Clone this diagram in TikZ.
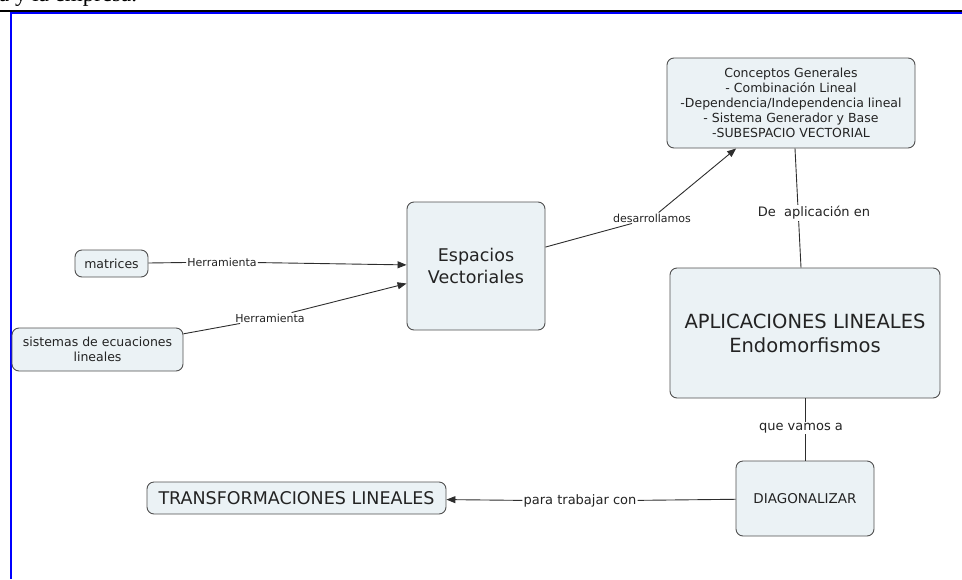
\documentclass[tikz,border=0pt]{standalone}
\usepackage{fontspec}
\setmainfont{DejaVu Sans}
\newfontfamily\headserif{Liberation Serif}
\usetikzlibrary{arrows.meta}

\definecolor{cfill}{RGB}{235,242,245}
\definecolor{cedge}{RGB}{80,80,80}
\definecolor{ctext}{RGB}{35,35,35}
\definecolor{clink}{RGB}{45,45,45}
\definecolor{frameblue}{RGB}{0,0,255}

\begin{document}
\begin{tikzpicture}[x=1pt,y=-1pt,
  concept/.style={draw=cedge, fill=cfill, rectangle, rounded corners=7pt,
    line width=0.9pt, text=ctext, align=center, inner sep=2pt},
  phrase/.style={fill=white, text=ctext, inner sep=1pt,
    font=\fontsize{11}{13}\selectfont},
  bigphrase/.style={phrase, font=\fontsize{13}{15}\selectfont},
  link/.style={draw=clink, line width=0.9pt},
  tip/.style={-{Triangle[length=9pt,width=7pt]}}]

\useasboundingbox (0,0) rectangle (962,579);

% running text of the page above the frame
\begin{scope}
  \clip (0,0) rectangle (962,579);
  \node[anchor=base west, inner sep=0pt, text=black,
        font=\headserif\fontsize{23}{28}\selectfont] (head) at (-1,1) {a y la empresa.};
\end{scope}

% page frame
\draw[black, line width=1.4pt] (0,10.8) -- (962,10.8);
\draw[frameblue, line width=2pt] (10,13) -- (962,13);
\draw[frameblue, line width=2pt] (11,12) -- (11,579);

% concepts
\node[concept, minimum width=248, minimum height=90,
      font=\fontsize{12.5}{15}\selectfont] (conc) at (791,103)
  {Conceptos Generales\\- Combinación Lineal\\-Dependencia/Independencia lineal\\- Sistema Generador y Base\\-SUBESPACIO VECTORIAL};
\node[concept, minimum width=138, minimum height=128,
      font=\fontsize{17.5}{22}\selectfont] (esp) at (476,266) {Espacios\\Vectoriales};
\node[concept, minimum width=73, minimum height=27,
      font=\fontsize{12.5}{15}\selectfont] (mat) at (111.5,263.5) {matrices};
\node[concept, minimum width=171, minimum height=43,
      font=\fontsize{12.5}{15}\selectfont] (sis) at (97.5,349.5) {sistemas de ecuaciones\\lineales};
\node[concept, minimum width=270, minimum height=130,
      font=\fontsize{19.5}{24}\selectfont] (apl) at (805,333) {APLICACIONES LINEALES\\Endomorfismos};
\node[concept, minimum width=138, minimum height=75,
      font=\fontsize{13.5}{16}\selectfont] (diag) at (805,498.5) {DIAGONALIZAR};
\node[concept, minimum width=299, minimum height=32,
      font=\fontsize{17.5}{20}\selectfont] (trans) at (296.5,498) {TRANSFORMACIONES LINEALES};

% linking phrases
\node[phrase] (h1) at (222,262) {Herramienta};
\node[phrase] (h2) at (270,318) {Herramienta};
\node[phrase] (des) at (652,218) {desarrollamos};
\node[bigphrase] (para) at (580,501) {para trabajar con};

% connectors through the phrases
\draw[link] (mat) -- (h1);
\draw[link, tip] (h1) -- (esp);
\draw[link] (sis) -- (h2);
\draw[link, tip] (h2) -- (esp);
\draw[link] (esp) -- (des);
\draw[link, tip] (des) -- (conc);
\draw[link] (diag) -- (para);
\draw[link, tip] (para) -- (trans);

% plain connectors with the phrase laid over them
\draw[link] ([xshift=4]conc.south) -- ([xshift=-4]apl.north);
\node[bigphrase] (deap) at (814,213) {De\ \ aplicación en};
\draw[link] (apl.south) -- (diag.north);
\node[bigphrase] (que) at (801,428) {que vamos a};

\end{tikzpicture}
\end{document}
